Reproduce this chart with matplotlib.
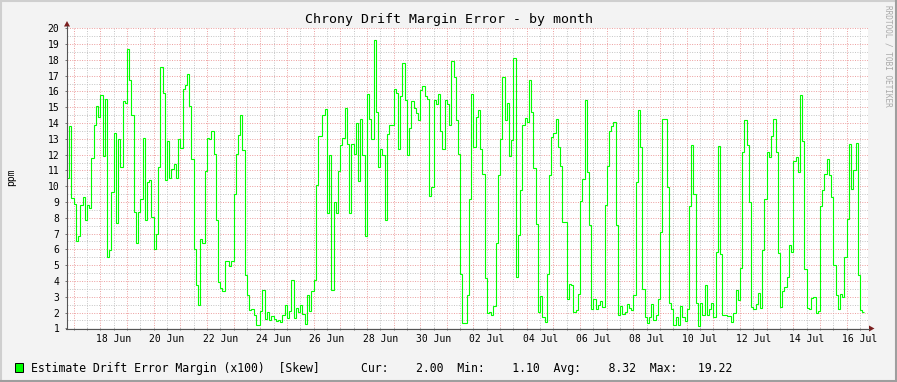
import matplotlib
matplotlib.use("Agg")
import matplotlib.pyplot as plt
import numpy as np
from matplotlib.lines import Line2D
from matplotlib.patches import Polygon, Rectangle

# chrony skew samples, one every 2 hours, first one starts 16 Jun 18:00
# (x axis is in days counted from 1 Jun = day 1)
start_day = 16.75
step_days = 2 / 24

skew = [
    10.55, 13.8, 9.27, 8.85, 6.5, 6.82, 8.78, 9.3, 7.84, 8.78, 8.6, 11.76,
    13.9, 15.1, 14.4, 15.75, 11.9, 15.55, 5.5, 5.94, 9.65, 13.4, 7.67, 12.96,
    11.2, 15.37, 15.3, 18.66, 16.7, 14.48, 8.34, 6.4, 8.34, 9.19, 13.07, 7.84,
    10.26, 10.37, 8.03, 6.0, 6.97, 11.19, 17.58, 15.9, 10.37,
    12.84, 10.55, 11.08, 11.42, 10.5, 12.96, 12.41, 16.17, 16.38, 17.08, 15.1, 11.7,
    6.04, 3.76, 2.46, 6.67, 6.42, 10.94, 13.07, 12.96, 13.47, 12.05, 7.84, 3.93,
    3.57, 3.38, 5.24, 5.26, 4.95, 5.26, 9.52, 12.05, 13.27, 14.54, 12.27, 4.35,
    3.13, 2.14, 2.2, 1.82, 1.19, 1.19, 2.08, 3.4, 1.6,
    2.03, 1.55, 1.78, 1.61, 1.44, 1.55, 1.4, 1.82, 2.5, 1.68, 2.07, 4.08,
    1.68, 2.31, 2.05, 2.5, 1.9, 1.25, 3.1, 2.08, 3.35, 4.05, 10.1, 13.2,
    13.17, 14.48, 14.86, 8.31, 12.0, 3.4, 9.0, 8.33, 10.94, 12.58, 13.07, 14.97,
    12.69, 8.33, 12.69, 12.05, 13.99, 10.3, 14.27, 11.95, 6.85,
    15.85, 14.27, 12.96, 19.23, 14.7, 11.19, 12.37, 12.0, 7.84, 13.32, 13.85, 13.85,
    16.17, 15.9, 12.37, 15.7, 17.83, 15.44, 12.0, 13.71, 15.37, 14.96, 14.65, 14.17,
    16.11, 16.32, 15.7, 15.53, 9.41, 9.98, 15.44, 15.19, 15.85, 13.49, 12.37, 15.49,
    15.23, 13.85, 17.9, 16.9, 14.17, 12.05, 4.41, 1.33, 1.33,
    3.09, 9.17, 15.85, 12.48, 14.37, 14.8, 12.33, 10.79, 4.19, 1.99, 2.03, 1.82,
    2.41, 6.42, 10.68, 13.0, 16.9, 14.17, 15.26, 11.89, 12.9, 18.1, 4.25, 6.93,
    9.73, 13.85, 14.33, 14.06, 16.7, 14.73, 11.17, 7.62, 2.03, 3.05, 1.72, 1.4,
    4.41, 10.68, 13.1, 13.38, 14.27, 12.48, 11.25, 7.73, 7.73,
    2.88, 3.82, 3.72, 2.03, 2.14, 3.19, 9.04, 10.43, 15.43, 10.89, 7.52, 2.2,
    2.84, 2.2, 2.46, 2.71, 2.35, 8.83, 11.25, 13.5, 13.8, 14.06, 7.52, 1.82,
    2.41, 1.93, 2.03, 2.56, 2.31, 2.14, 3.13, 10.26, 14.8, 12.48, 3.51, 1.72,
    1.33, 1.72, 2.56, 1.51, 1.82, 2.88, 7.1, 14.27, 14.27,
    9.98, 2.62, 2.2, 1.19, 1.72, 1.23, 2.41, 1.72, 1.46, 2.24, 8.72, 12.58,
    9.52, 2.6, 1.13, 2.62, 1.82, 3.72, 1.82, 2.2, 2.6, 1.72, 5.83, 12.52,
    5.73, 1.82, 1.86, 1.76, 1.8, 1.4, 1.99, 3.45, 2.77, 4.82, 12.16, 14.2,
    12.58, 9.0, 2.35, 2.24, 2.56, 3.26, 2.29, 5.94, 9.21,
    12.16, 11.84, 13.2, 14.23, 12.16, 5.77, 2.33, 3.34, 3.62, 4.25, 6.3, 5.83,
    11.57, 11.84, 10.89, 15.75, 12.86, 4.78, 2.29, 2.2, 2.92, 2.96, 1.97, 2.08,
    8.72, 9.78, 10.75, 11.74, 10.68, 9.31, 4.99, 3.09, 2.2, 3.19, 2.96, 5.54,
    7.9, 12.69, 9.8, 11.0, 12.75, 4.35, 2.14, 2.03,
]

label_days = list(range(18, 47, 2))
x_labels = ["18 Jun", "20 Jun", "22 Jun", "24 Jun", "26 Jun", "28 Jun", "30 Jun",
            "02 Jul", "04 Jul", "06 Jul", "08 Jul", "10 Jul", "12 Jul", "14 Jul", "16 Jul"]
y_ticks = list(range(1, 21))

# printed legend numbers (Cur, Min, Avg, Max)
stats = [2.00, 1.10, 8.32, 19.22]

W, H = 897, 382
MONO = "DejaVu Sans Mono"


def px(x, y):
    return x / W, 1 - y / H


fig = plt.figure(figsize=(W / 100, H / 100), dpi=100, facecolor="#F3F3F3")
ax = fig.add_axes([67 / W, (H - 328.3) / H, 801 / W, 300 / H])
ax.set_facecolor("white")

edges = start_day + step_days * np.arange(len(skew) + 1)
ax.stairs(skew, edges, baseline=None, color="#00FF00", lw=0.8, zorder=3)

ax.set_xlim(16.75, 46.8)
ax.set_ylim(1, 20)

# days -> red grid, noon -> grey grid + labels
ax.set_xticks(range(17, 47))
ax.set_xticklabels([])
noons = [d + 0.5 for d in range(17, 47)]
ax.set_xticks(noons, minor=True)
ax.set_xticklabels([x_labels[label_days.index(d)] if d in label_days else "" for d in range(17, 47)],
                   minor=True)
ax.set_yticks(y_ticks)
ax.set_yticklabels([str(v) for v in y_ticks])
ax.set_yticks([v + 0.5 for v in y_ticks[:-1]], minor=True)

ax.set_axisbelow(True)
dots = (0, (1, 1.5))
ax.grid(True, which="major", color="#EC9E9E", linestyle=dots, linewidth=0.7)
ax.grid(True, which="minor", color="#C4C4C4", linestyle=dots, linewidth=0.7)

for s in ax.spines.values():
    s.set_visible(False)
ax.tick_params(axis="both", which="both", length=1.5, width=0.7, color="#777777",
               labelsize=7, direction="out")
ax.tick_params(axis="x", which="minor", pad=2.5)
ax.tick_params(axis="x", which="major", pad=2.5)
ax.tick_params(axis="y", which="major", pad=4)
ax.tick_params(axis="y", which="minor", length=0)
for lab in ax.get_xticklabels(minor=True) + ax.get_yticklabels():
    lab.set_family(MONO)

# axis lines with arrow heads
axis_col = "#555555"
arrow_col = "#7A1E1E"
fig.add_artist(Line2D(*zip(px(67, 328.5), px(67, 26)), color=axis_col, lw=0.8))
fig.add_artist(Line2D(*zip(px(66, 328.5), px(869, 328.5)), color=axis_col, lw=0.8))
fig.add_artist(Polygon([px(64, 26.5), px(70, 26.5), px(67, 21)], closed=True,
                       transform=fig.transFigure, color=arrow_col, lw=0))
fig.add_artist(Polygon([px(869, 325.5), px(869, 331.5), px(874.5, 328.5)], closed=True,
                       transform=fig.transFigure, color=arrow_col, lw=0))

# titles and side texts
fig.text(*px(448.5, 19), "Chrony Drift Margin Error - by month", ha="center", va="center",
         fontsize=9.5, family=MONO)
fig.text(*px(11, 177), "ppm", rotation=90, ha="center", va="center", fontsize=7, family=MONO)
fig.text(*px(887.5, 5), "RRDTOOL / TOBI OETIKER", rotation=270, ha="center", va="top",
         fontsize=5.6, family=MONO, color="#A9A9A9")

# legend line
fig.add_artist(Rectangle(px(15, 372), 8 / W, 9 / H, transform=fig.transFigure,
                         facecolor="#00FF00", edgecolor="black", lw=0.7))
cur, mn, avg, mx = stats
legend_txt = ("Estimate Drift Error Margin (x100)  [Skew]      "
              f"Cur:{cur:8.2f}  Min:{mn:8.2f}  Avg:{avg:8.2f}  Max:{mx:8.2f}")
fig.text(*px(30.7, 372.3), legend_txt, ha="left", va="baseline", fontsize=8.3, family=MONO)

# 3d-ish frame round the image
light, dark = "#CFCFCF", "#9E9E9E"
fig.add_artist(Line2D(*zip(px(0, 1), px(W, 1)), color=light, lw=1.5))
fig.add_artist(Line2D(*zip(px(1, 0), px(1, H)), color=light, lw=1.5))
fig.add_artist(Line2D(*zip(px(0, H - 1), px(W, H - 1)), color=dark, lw=1.5))
fig.add_artist(Line2D(*zip(px(W - 1, 0), px(W - 1, H)), color=dark, lw=1.5))

fig.savefig("out.png", dpi=100, facecolor=fig.get_facecolor())
